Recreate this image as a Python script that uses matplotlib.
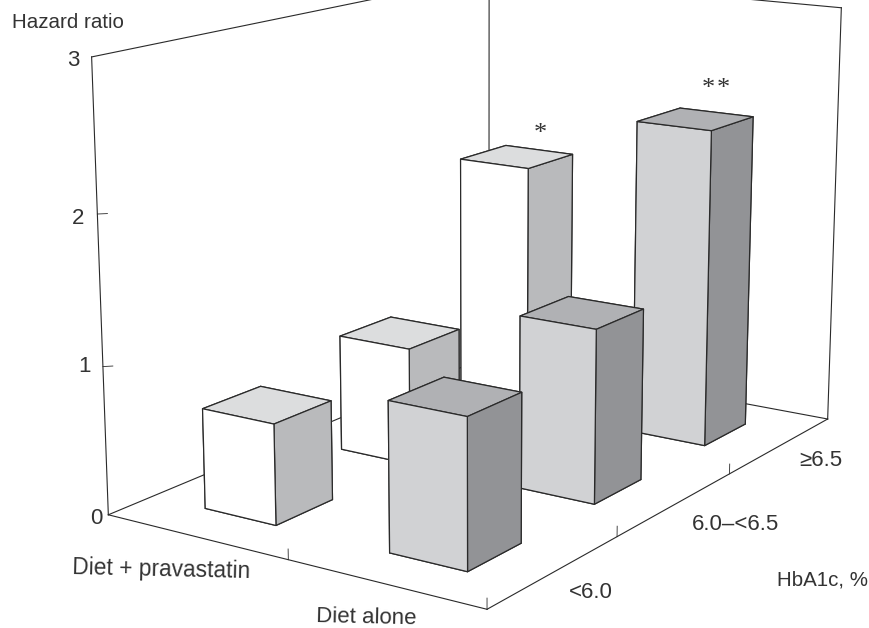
import matplotlib
matplotlib.use("Agg")
import matplotlib.pyplot as plt

W, H = 870, 628

plt.rcParams["font.family"] = ["Liberation Sans", "DejaVu Sans"]

treatments = ["Diet + pravastatin", "Diet alone"]
hba1c_labels = ["<6.0", "6.0–<6.5", "≥6.5"]
z_ticks = [0, 1, 2, 3]

diet_prava = [0.68, 0.82, 1.81]
diet_alone = [0.99, 1.19, 2.25]

# camera fitted on the corners of the box
ELEV, AZIM, ROLL = 13.8972, -56.2960, -0.0283
FOCAL = 0.5456
ASPECT = (1, 1.5064, 1.0169)
SCALE, CX, CY = 4776.17, 488.21, 252.02

X_LEFT = [0.30, 1.305]
Y_FRONT = [0.30, 1.30, 2.30]
BAR_DX = 0.397
BAR_DY = 0.405

# faces in bar3d order: bottom, top, front, back, left, right
WHITE_FACES = ["#ffffff", "#dcddde", "#ffffff", "#ffffff", "#ffffff", "#b9babc"]
GREY_FACES = ["#d1d2d4", "#b0b1b4", "#d1d2d4", "#d1d2d4", "#d1d2d4", "#929396"]

LINE = "#2a2a2a"
TEXT = "#333333"

fig = plt.figure(figsize=(W / 100, H / 100), dpi=100)
ax = fig.add_axes([0, 0, 1, 1], projection="3d")
ax.set_xlim(0, 2)
ax.set_ylim(0, 3)
ax.set_zlim(0, 3)
ax.view_init(ELEV, AZIM, ROLL)
ax.set_proj_type("persp", focal_length=FOCAL)
ax.set_box_aspect(ASPECT)
ax.set_axis_off()
ax.computed_zorder = False
ax.patch.set_alpha(0)

v = ax.viewLim
side = SCALE * v.width
ax.set_position([(CX + SCALE * v.x0) / W, ((H - CY) + SCALE * v.y0) / H, side / W, side / H])


def edge(a, b, lw=0.8):
    ax.plot([a[0], b[0]], [a[1], b[1]], [a[2], b[2]], color=LINE, lw=lw, zorder=1,
            solid_capstyle="projecting")


xm, ym, zm = 2, 3, 3
edge((0, 0, 0), (xm, 0, 0))
edge((xm, 0, 0), (xm, ym, 0))
edge((xm, ym, 0), (0, ym, 0))
edge((0, ym, 0), (0, 0, 0))
edge((0, 0, 0), (0, 0, zm))
edge((0, ym, 0), (0, ym, zm))
edge((xm, ym, 0), (xm, ym, zm))
edge((0, 0, zm), (0, ym, zm))
edge((0, ym, zm), (xm, ym, zm))

# ticks
for x in [1, 2]:
    edge((x, 0, 0), (x, 0, 0.07), lw=0.6)
for y in [1, 2]:
    edge((xm, y, 0), (xm, y, 0.07), lw=0.6)
for z in z_ticks[1:3]:
    edge((0, 0, z), (0.03, 0.03, z), lw=0.6)

# back to front so the nearer bars hide the others
order = 10
for j in [2, 1, 0]:
    for i, values in enumerate([diet_prava, diet_alone]):
        faces = WHITE_FACES if i == 0 else GREY_FACES
        ax.bar3d(X_LEFT[i], Y_FRONT[j], 0, BAR_DX, BAR_DY, values[j], color=faces,
                 edgecolor=LINE, linewidth=0.9, shade=False, zorder=order)
        order += 1


def label(x, y, s, size=16, rotation=0, **kw):
    fig.text(x / W, 1 - y / H, s, fontsize=size, color=TEXT, ha="center", va="center",
             rotation=rotation, rotation_mode="anchor", **kw)


label(68, 22, "Hazard ratio", size=14.8)
for z, (tx, ty) in zip(z_ticks, [(96, 519), (85, 367), (78, 218), (73, 60)]):
    label(tx, ty, str(z))

label(161, 570, treatments[0], size=16.4, rotation=-1.3)
label(366, 618, treatments[1], rotation=-1.3)
label(591, 592, hba1c_labels[0])
label(736, 524, hba1c_labels[1])
label(821, 461, hba1c_labels[2])
label(823, 580, "HbA1c, %", size=14.8)

for ax_x, ax_y in [(540, 134), (708, 89), (723, 89)]:
    label(ax_x, ax_y, "*", size=19, family="Liberation Serif")

fig.savefig("out.png", dpi=100)
